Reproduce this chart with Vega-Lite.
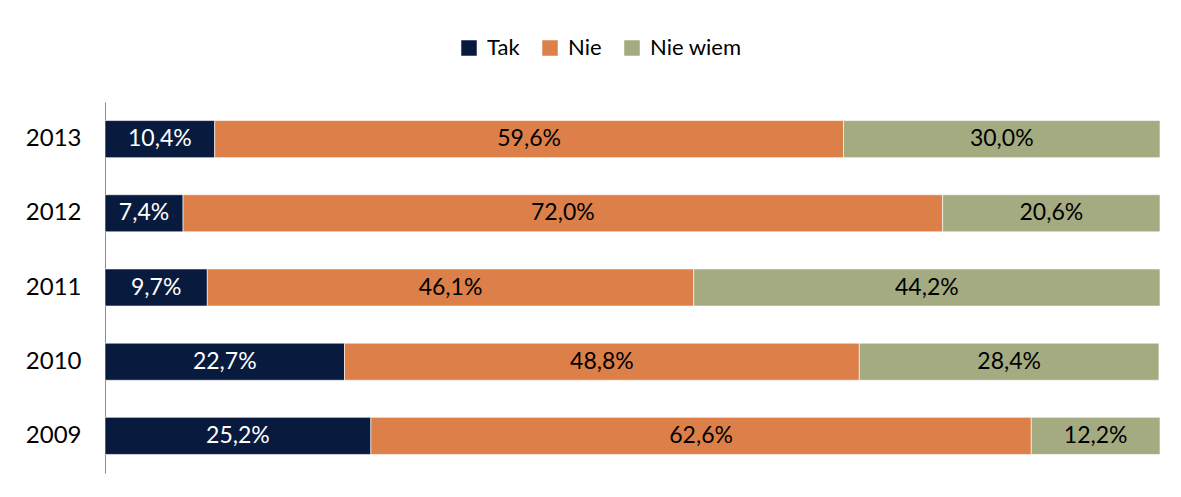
{
  "$schema": "https://vega.github.io/schema/vega-lite/v6.json",
  "width": 1055,
  "height": 371,
  "autosize": {"type": "none"},
  "padding": {"left": 105, "top": 102, "right": 21, "bottom": 24},
  "background": "white",
  "config": {
    "font": "Lato",
    "view": {"stroke": null}
  },
  "data": {
    "values": [
      {"rok": "2013", "odp": "Tak", "k": 1, "v": 10.4},
      {"rok": "2013", "odp": "Nie", "k": 2, "v": 59.6},
      {"rok": "2013", "odp": "Nie wiem", "k": 3, "v": 30.0},
      {"rok": "2012", "odp": "Tak", "k": 1, "v": 7.4},
      {"rok": "2012", "odp": "Nie", "k": 2, "v": 72.0},
      {"rok": "2012", "odp": "Nie wiem", "k": 3, "v": 20.6},
      {"rok": "2011", "odp": "Tak", "k": 1, "v": 9.7},
      {"rok": "2011", "odp": "Nie", "k": 2, "v": 46.1},
      {"rok": "2011", "odp": "Nie wiem", "k": 3, "v": 44.2},
      {"rok": "2010", "odp": "Tak", "k": 1, "v": 22.7},
      {"rok": "2010", "odp": "Nie", "k": 2, "v": 48.8},
      {"rok": "2010", "odp": "Nie wiem", "k": 3, "v": 28.4},
      {"rok": "2009", "odp": "Tak", "k": 1, "v": 25.2},
      {"rok": "2009", "odp": "Nie", "k": 2, "v": 62.6},
      {"rok": "2009", "odp": "Nie wiem", "k": 3, "v": 12.2}
    ]
  },
  "transform": [
    {"stack": "v", "groupby": ["rok"], "sort": [{"field": "k", "order": "ascending"}], "as": ["x0", "x1"]},
    {"calculate": "(datum.x0 + datum.x1) / 2", "as": "xm"},
    {"calculate": "replace(format(datum.v, '.1f'), '.', ',') + '%'", "as": "lab"}
  ],
  "encoding": {
    "y": {
      "field": "rok",
      "type": "ordinal",
      "sort": "descending",
      "scale": {"paddingInner": 0.5, "paddingOuter": 0.25},
      "axis": {
        "title": null,
        "ticks": false,
        "domainColor": "#8c8c8c",
        "domainWidth": 1,
        "labelFontSize": 24,
        "labelColor": "#000000",
        "labelPadding": 24,
        "labelFont": "Lato"
      }
    }
  },
  "layer": [
    {
      "mark": {"type": "bar", "stroke": "white", "strokeWidth": 0.6},
      "encoding": {
        "x": {"field": "x0", "type": "quantitative", "scale": {"domain": [0, 100], "nice": false}, "axis": null},
        "x2": {"field": "x1"},
        "color": {
          "field": "odp",
          "type": "nominal",
          "scale": {"domain": ["Tak", "Nie", "Nie wiem"], "range": ["#081b3e", "#dd7f48", "#a4ab81"]},
          "legend": {
            "title": null,
            "orient": "none",
            "direction": "horizontal",
            "legendX": 353,
            "legendY": -65,
            "symbolType": "square",
            "symbolSize": 240,
            "symbolStrokeWidth": 0,
            "labelFontSize": 22,
            "labelColor": "#000000",
            "labelOffset": 7,
            "columnPadding": 19,
            "labelFont": "Lato"
          }
        }
      }
    },
    {
      "mark": {"type": "text", "fontSize": 23, "baseline": "middle", "align": "center"},
      "encoding": {
        "x": {"field": "xm", "type": "quantitative"},
        "text": {"field": "lab"},
        "color": {
          "condition": {"test": "datum.odp === 'Tak'", "value": "#ffffff"},
          "value": "#000000"
        }
      }
    }
  ]
}
